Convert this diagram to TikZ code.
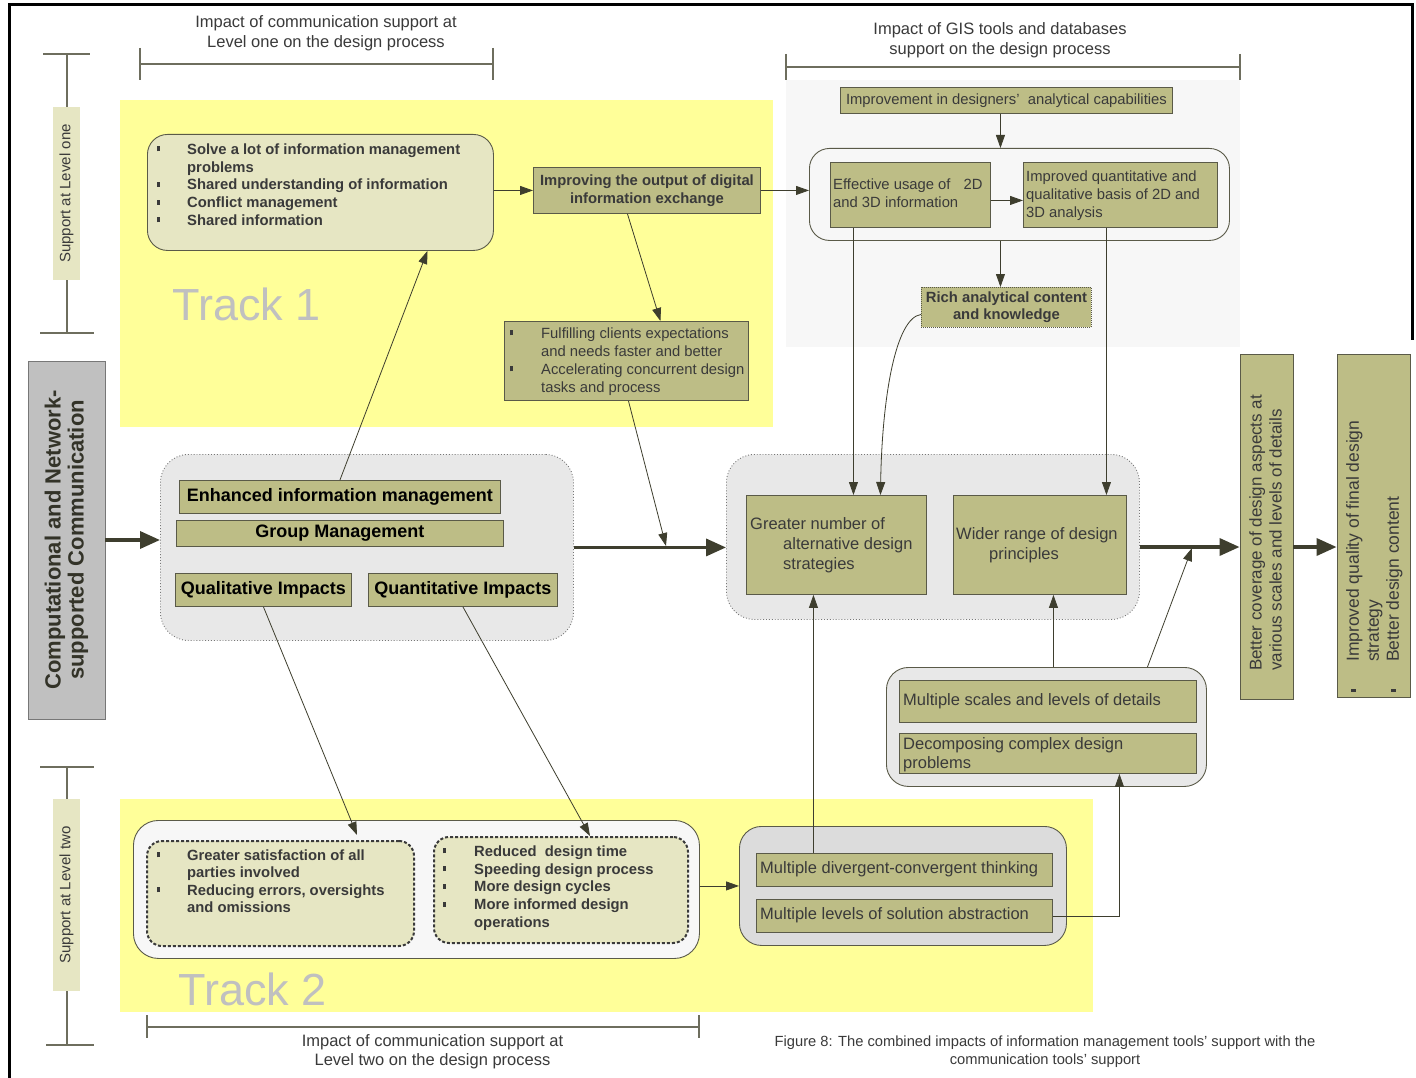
\documentclass[tikz,border=0pt]{standalone}
\usepackage{fontspec}
\setmainfont{Liberation Sans}
\usetikzlibrary{arrows.meta,calc}
\definecolor{yel}{HTML}{FFFF99}
\definecolor{olv}{HTML}{BDBD86}
\definecolor{khk}{HTML}{E6E6C3}
\definecolor{grp}{HTML}{E8E8E8}
\definecolor{grp2}{HTML}{DCDCDC}
\definecolor{pnl}{HTML}{F7F7F7}
\definecolor{brd}{HTML}{5A5A48}
\definecolor{arc}{HTML}{3E3E2E}
\definecolor{txc}{HTML}{3A3A3A}
\definecolor{trk}{HTML}{C0C0C0}
\definecolor{brk}{HTML}{6E6E5E}
\definecolor{gry}{HTML}{777777}
\definecolor{comf}{HTML}{C0C0C0}
\newcommand{\fsz}[2]{\fontsize{#1}{#2}\selectfont}
\newcommand{\bulx}[1]{\makebox[#1][l]{\raisebox{3pt}{\rule{3pt}{5pt}}}}
\begin{document}
\begin{tikzpicture}[x=1pt,y=-1pt,
  font=\fsz{14.8}{18},
  every node/.style={text=txc},
  obox/.style={draw=brd, fill=olv, line width=0.9pt, inner sep=0pt},
  rbox/.style={draw=brd, line width=0.9pt, inner sep=0pt},
  grpbox/.style={draw=gry, fill=grp, dotted, line width=0.9pt, rounded corners=28pt, inner sep=0pt},
  dbox/.style={draw=txc, fill=khk, line width=2pt, dash pattern=on 3pt off 2pt, rounded corners=15pt, inner sep=0pt, anchor=north west},
  bigbold/.style={font=\bfseries\fsz{18}{18}, text=black},
  arr/.style={draw=arc, line width=0.8pt, -{Triangle[length=13pt,width=9pt]}},
  tarr/.style={draw=arc, line width=3.5pt, -{Triangle[length=20pt,width=17pt]}},
  brack/.style={draw=brk, line width=1.2pt},
  txt/.style={inner sep=0pt, align=left, anchor=north west},
  trackt/.style={anchor=west, inner sep=0pt, font=\fsz{45}{45}, text=trk},
  f16/.style={font=\fsz{16.5}{20}}
]
\fill[white] (0,0) rectangle (1416,1078);
\useasboundingbox (0,0) rectangle (1416,1078);
% frame
\draw[black, line width=3pt] (9,1078) -- (9,5) -- (1412,5) -- (1412,340);

% panels
\fill[yel] (120,100) rectangle (773,427);
\fill[pnl] (786,80) rectangle (1240,347);
\fill[yel] (120,799) rectangle (1093,1012);

% brackets
\draw[brack] (140,48) -- (140,80) (493,48) -- (493,80) (140,64) -- (493,64);
\node[f16, align=center, inner sep=0pt] (lab1) at (326,33.5) {Impact of communication support at\\Level one on the design process};
\draw[brack] (786,54) -- (786,80) (1240,54) -- (1240,80) (786,67) -- (1240,67);
\node[f16, align=center, inner sep=0pt] (lab2) at (1000,40) {Impact of GIS tools and databases\\support on the design process};
\draw[brack] (147,1015) -- (147,1038) (699,1015) -- (699,1038) (147,1027) -- (699,1027);
\node[font=\fsz{16.5}{19}, align=center, inner sep=0pt] (lab3) at (432.5,1051.5) {Impact of communication support at\\Level two on the design process};
\node[font=\fsz{14.7}{18}, align=center, inner sep=0pt] (cap) at (1045,1052) {Figure 8: The combined impacts of information management tools' support with the\\communication tools' support};

% left side supports
\draw[brack] (67,54) -- (67,333) (43,54) -- (90,54) (40,333) -- (94,333);
\node[fill=khk, rotate=90, minimum width=173, minimum height=27, inner sep=0pt, font=\fsz{15}{18}] (sup1) at (66.5,193.5) {Support at Level one};
\draw[brack] (67,767) -- (67,1045) (40,767) -- (94,767) (46,1045) -- (94,1045);
\node[fill=khk, rotate=90, minimum width=192, minimum height=27, inner sep=0pt, font=\fsz{15}{18}] (sup2) at (66.5,895) {Support at Level two};
\node[fill=comf, draw=gry, line width=0.9pt, rotate=90, minimum width=358, minimum height=77, inner sep=0pt, align=center, font=\bfseries\fsz{22}{23}, text={rgb,255:red,51;green,51;blue,40}] (comm) at (66.5,540) {Computational and Network-\\supported Communication};

% Track 1
\node[rbox, fill=khk, rounded corners=20pt, minimum width=346, minimum height=116, anchor=north west] (t1box) at (147,134) {};
\node[txt, font=\bfseries\fsz{14.8}{17.75}] (t1txt) at (157,143.5) {\bulx{30pt}Solve a lot of information management\\\hspace*{30pt}problems\\\bulx{30pt}Shared understanding of information\\\bulx{30pt}Conflict management\\\bulx{30pt}Shared information};
\node[trackt] (trk1) at (172,304.5) {Track 1};
\node[obox, minimum width=227, minimum height=46, anchor=north west, align=center, font=\bfseries\fsz{14.8}{18}] (impr) at (533,167) {Improving the output of digital\\information exchange};
\node[obox, minimum width=244, minimum height=79, anchor=north west] (ful) at (504,321) {};
\node[txt] (fult) at (510,327.5) {\bulx{31pt}Fulfilling clients expectations\\\hspace*{31pt}and needs faster and better\\\bulx{31pt}Accelerating concurrent design\\\hspace*{31pt}tasks and process};

% GIS
\node[obox, minimum width=332, minimum height=26, anchor=north west] (imp) at (840,87) {Improvement in designers'\ \ analytical capabilities};
\node[rbox, fill=pnl, rounded corners=20pt, minimum width=420, minimum height=92, anchor=north west] (gis) at (809,148) {};
\node[obox, minimum width=160, minimum height=65, anchor=north west] (eff) at (830,162) {};
\node[txt] (efft) at (833,178.5) {Effective usage of\hspace{9pt} 2D\\and 3D information};
\node[obox, minimum width=194, minimum height=65, anchor=north west] (iqb) at (1023,162) {};
\node[txt] (iqt) at (1026,170.5) {Improved quantitative and\\qualitative basis of 2D and\\3D analysis};
\node[obox, dash pattern=on 1pt off 1pt, minimum width=170, minimum height=40, anchor=north west, align=center, font=\bfseries\fsz{14.8}{17}] (rich) at (921,287) {Rich analytical content\\and knowledge};

% middle left group
\node[grpbox, minimum width=413, minimum height=186, anchor=north west] (grpL) at (160,454) {};
\node[obox, bigbold, minimum width=321, minimum height=33, anchor=north west] (enh) at (179,480) {Enhanced information management};
\node[obox, bigbold, minimum width=327, minimum height=26, anchor=north west] (gm) at (176,520) {Group Management};
\node[obox, bigbold, minimum width=176, minimum height=33, anchor=north west] (qual) at (175,573) {Qualitative Impacts};
\node[obox, bigbold, minimum width=189, minimum height=33, anchor=north west] (quan) at (368,573) {Quantitative Impacts};

% middle right group
\node[grpbox, minimum width=413, minimum height=165, anchor=north west] (grpR) at (726,454) {};
\node[obox, minimum width=180, minimum height=99, anchor=north west] (grt) at (746,495) {};
\node[txt, f16] (grtt) at (750,517) {Greater number of\\\hspace*{33pt}alternative design\\\hspace*{33pt}strategies};
\node[obox, minimum width=173, minimum height=99, anchor=north west] (wid) at (953,495) {};
\node[txt, f16] (widt) at (956,527) {Wider range of design\\\hspace*{33pt}principles};

% scales group
\node[rbox, fill=grp, rounded corners=22pt, minimum width=320, minimum height=119, anchor=north west] (scl) at (886,667) {};
\node[obox, minimum width=297, minimum height=42, anchor=north west] (msl) at (899,680) {};
\node[anchor=west, inner sep=0pt, f16] (mslt) at (903,701) {Multiple scales and levels of details};
\node[obox, minimum width=297, minimum height=40, anchor=north west] (dec) at (899,733) {};
\node[txt, font=\fsz{16.5}{19}] (dect) at (903,737) {Decomposing complex design\\problems};

% right bars
\node[obox, rotate=90, minimum width=345, minimum height=53] (cov) at (1266.5,526.5) {};
\node[txt, rotate=90, font=\fsz{17}{20}] (covt) at (1249,671) {Better coverage of design aspects at\\various scales and levels of details};
\node[obox, rotate=90, minimum width=343, minimum height=73] (qlb) at (1373.5,525.5) {};
\node[txt, rotate=90, font=\fsz{17.5}{20}] (qlt) at (1346,692) {\bulx{30pt}Improved quality of final design\\\hspace*{30pt}strategy\\\bulx{30pt}Better design content};

% Track 2
\node[rbox, fill=pnl, rounded corners=25pt, minimum width=566, minimum height=138, anchor=north west] (t2box) at (133,820) {};
\node[dbox, minimum width=267, minimum height=105] (dl) at (146,840) {};
\node[dbox, minimum width=254, minimum height=106] (dr) at (433,836) {};
\node[txt, font=\bfseries\fsz{14.8}{17.5}] (dlt) at (157,849.5) {\bulx{30pt}Greater satisfaction of all\\\hspace*{30pt}parties involved\\\bulx{30pt}Reducing errors, oversights\\\hspace*{30pt}and omissions};
\node[txt, font=\bfseries\fsz{14.8}{17.75}] (drt) at (443,845.5) {\bulx{31pt}Reduced\ \ design time\\\bulx{31pt}Speeding design process\\\bulx{31pt}More design cycles\\\bulx{31pt}More informed design\\\hspace*{31pt}operations};
\node[trackt] (trk2) at (178,989) {Track 2};
\node[rbox, fill=grp2, rounded corners=22pt, minimum width=327, minimum height=119, anchor=north west] (g2) at (739,826) {};
\node[obox, minimum width=296, minimum height=33, anchor=north west] (div) at (756,853) {};
\node[anchor=west, inner sep=0pt, f16] (divt) at (760,869.5) {Multiple divergent-convergent thinking};
\node[obox, minimum width=296, minimum height=33, anchor=north west] (lev) at (756,899) {};
\node[anchor=west, inner sep=0pt, f16] (levt) at (760,915.5) {Multiple levels of solution abstraction};

% connectors
\draw[tarr] (comm.south) -- (comm.south -| grpL.west);
\draw[arr] (enh.north) -- ([xshift=107pt]t1box.south);
\draw[arr] (t1box.east |- impr.west) -- (impr.west);
\draw[arr] (impr.east) -- (impr.east -| gis.west);
\draw[arr] ([xshift=-19.5pt]impr.south) -- ([xshift=34pt]ful.north);
\coordinate (mj) at (666,546);
\draw[arr] ([xshift=2pt]ful.south) -- (mj);
\draw[tarr] (grpL.east) -- (grpL.east -| grpR.west);
\coordinate (in1) at ([xshift=-6pt]imp.south);
\draw[arr] (in1) -- (in1 |- gis.north);
\draw[arr] ([yshift=-5.5pt]eff.east) -- ([yshift=-5.5pt]eff.east -| iqb.west);
\coordinate (rn) at ([xshift=-6pt]rich.north);
\draw[arr] (rn |- gis.south) -- (rn);
\draw[arr] ([yshift=-7pt]rich.west) .. controls (895,318) and (882,400) .. ([xshift=44pt]grt.north);
\coordinate (gn1) at ([xshift=17pt]grt.north);
\draw[arr] (gn1 |- eff.south) -- (gn1);
\coordinate (wn1) at ([xshift=66.5pt]wid.north);
\draw[arr] (wn1 |- iqb.south) -- (wn1);
\coordinate (ylev) at (0,547);
\draw[tarr] (grpR.east |- ylev) -- (cov.north |- ylev);
\draw[tarr] (cov.south |- ylev) -- (qlb.north |- ylev);
\coordinate (mj2) at (1192,548);
\draw[arr] ([xshift=101pt]scl.north) -- (mj2);
\coordinate (ws) at ([xshift=13.5pt]wid.south);
\draw[arr] (ws |- scl.north) -- (ws);
\coordinate (gs) at ([xshift=-23pt]grt.south);
\draw[arr] (gs |- div.north) -- (gs);
\draw[arr] (lev.east) -| ([xshift=71.5pt]dec.south);
\draw[arr] (t2box.east |- g2.west) -- (g2.west);
\draw[arr] (qual.south) -- ([xshift=76.5pt,yshift=5pt]dl.north);
\draw[arr] (quan.south) -- ([xshift=29pt]dr.north);
\end{tikzpicture}
\end{document}
